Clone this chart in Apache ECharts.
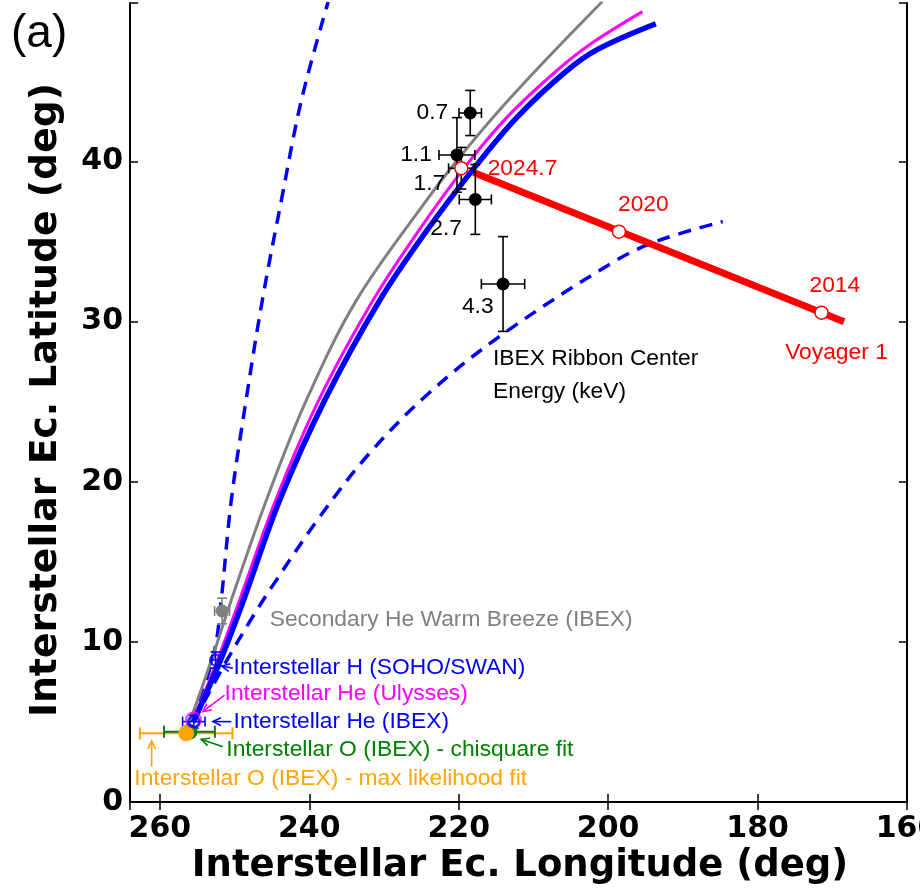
<!DOCTYPE html>
<html><head><meta charset="utf-8">
<script src="https://cdn.jsdelivr.net/npm/echarts@6/dist/echarts.min.js"></script>
<style>html,body{margin:0;padding:0;background:#fff}#chart{width:920px;height:893px}</style>
</head><body><div id="chart"></div>
<script>
// Axis tick labels
const xTickLabels = [260, 240, 220, 200, 180, 160];
const yTickLabels = [0, 10, 20, 30, 40];

// Flow-direction curves: [ecliptic longitude, ecliptic latitude]
const grayCurve = [[256.23, 4.68], [253.09, 8.87], [250.44, 12.62], [245.74, 18.86], [240.38, 25.11], [233.66, 31.36],
  [224.27, 37.60], [219.80, 40.31], [215.33, 42.80], [209.19, 45.93], [200.78, 49.99]];
const magentaCurve = [[255.44, 5.25], [252.28, 8.87], [249.33, 12.62], [244.50, 18.86], [238.72, 25.11], [231.44, 31.36],
  [225.57, 35.54], [219.13, 39.68], [213.49, 42.79], [206.82, 45.70], [202.16, 47.40], [195.41, 49.36]];
const blueCurve = [[255.50, 5.00], [251.88, 8.87], [248.79, 12.62], [243.96, 18.86], [237.92, 25.11], [230.54, 31.36],
  [224.50, 35.54], [217.79, 39.68], [212.15, 42.79], [205.71, 45.60], [201.41, 47.00], [193.62, 48.60]];
const blueDashLeft = [[255.50, 5.00], [252.68, 9.49], [251.79, 12.62], [250.44, 18.86], [248.46, 25.11], [246.28, 31.36],
  [243.73, 37.60], [241.05, 43.85], [237.48, 49.97]];
const blueDashRight = [[255.50, 5.00], [251.61, 8.37], [247.58, 11.57], [244.40, 13.87], [238.59, 17.82], [232.15, 21.67],
  [224.27, 25.42], [214.43, 29.11], [199.22, 33.75], [193.40, 35.04], [184.67, 36.25]];

// IBEX ribbon centers by energy (keV)
const ribbonEnergy = ['0.7', '1.1', '1.7', '2.7', '4.3'];
const ribbonLon = [218.46, 220.24, 219.66, 217.78, 214.07];
const ribbonLat = [43.03, 40.41, 39.58, 37.63, 32.35];
const ribbonLonErr = [1.5, 2.4, 1.7, 2.15, 2.9];
const ribbonLatErr = [1.41, 2.33, 1.3, 2.18, 2.96];
const ribbonLabelLon = [221.41, 223.60, 221.81, 219.57, 215.33];
const ribbonLabelLat = [43.03, 40.41, 38.64, 35.83, 30.94];

// Voyager 1 direction track and epochs
const voyagerTrack = [[218.01, 39.31], [168.43, 30.0]];
const voyagerYears = ['2024.7', '2020', '2014'];
const voyagerLon = [219.66, 198.55, 171.44];
const voyagerLat = [39.58, 35.62, 30.56];
const voyagerLabelLon = [216.13, 198.68, 173.05];
const voyagerLabelLat = [39.58, 37.29, 32.23];

// Interstellar flow measurements: [lon, lat, lonErr, latErr]
const warmBreeze = [251.68, 11.93, 1.0, 0.8];
const hydrogenSwan = [252.55, 8.87, 0.5, 0.5];
const heliumIbex = [255.46, 5.02, 1.5, 0.4];
const heliumUlysses = [255.5, 5.12];
const oxygenChisq = [256.04, 4.39, 3.4, 0];
const oxygenMaxLike = [256.48, 4.29, 6.2, 0];

// Annotation texts and their anchor points
const noteText = [
  'Secondary He Warm Breeze (IBEX)',
  'Interstellar H (SOHO/SWAN)',
  'Interstellar He (Ulysses)',
  'Interstellar He (IBEX)',
  'Interstellar O (IBEX) - chisquare fit',
  'Interstellar O (IBEX) - max likelihood fit',
  'IBEX Ribbon Center',
  'Energy (keV)',
  'Voyager 1'
];
const noteLon = [245.30, 250.13, 251.34, 250.13, 251.11, 263.42, 215.41, 215.41, 176.31];
const noteLat = [11.37, 8.41, 6.79, 5.02, 3.25, 1.48, 27.71, 25.63, 28.03];
const noteColor = ['#808080', '#0000ff', '#ff00ff', '#0000ff', '#008000', '#ffa500', '#000000', '#000000', '#ff0000'];

// Pointer arrows: [tailLon, tailLat, headLon, headLat]
const arrows = [
  [250.23, 8.35, 251.74, 8.49],
  [251.34, 6.68, 254.26, 5.64],
  [250.44, 5.02, 252.91, 5.02],
  [251.57, 3.45, 254.47, 3.92],
  [261.10, 2.20, 261.10, 3.81]
];
const arrowColor = ['#0000ff', '#ff00ff', '#0000ff', '#008000', '#ffa500'];

const TEXT_FONT = '22.8px "Liberation Sans", Arial, sans-serif';
const TITLE_FONT = 'bold 37px "DejaVu Sans", sans-serif';

function errorBars(color, lw, cap) {
  return function (params, api) {
    const x = api.value(0), y = api.value(1), ex = api.value(2), ey = api.value(3);
    const style = { stroke: color, lineWidth: lw };
    const ch = [];
    if (ex > 0) {
      const a = api.coord([x - ex, y]), b = api.coord([x + ex, y]);
      ch.push({ type: 'line', shape: { x1: a[0], y1: a[1], x2: b[0], y2: b[1] }, style });
      ch.push({ type: 'line', shape: { x1: a[0], y1: a[1] - cap, x2: a[0], y2: a[1] + cap }, style });
      ch.push({ type: 'line', shape: { x1: b[0], y1: b[1] - cap, x2: b[0], y2: b[1] + cap }, style });
    }
    if (ey > 0) {
      const a = api.coord([x, y - ey]), b = api.coord([x, y + ey]);
      ch.push({ type: 'line', shape: { x1: a[0], y1: a[1], x2: b[0], y2: b[1] }, style });
      ch.push({ type: 'line', shape: { x1: a[0] - cap, y1: a[1], x2: a[0] + cap, y2: a[1] }, style });
      ch.push({ type: 'line', shape: { x1: b[0] - cap, y1: b[1], x2: b[0] + cap, y2: b[1] }, style });
    }
    return { type: 'group', children: ch };
  };
}

function errSeries(rows, color, lw, cap, z) {
  return { type: 'custom', data: rows, renderItem: errorBars(color, lw, cap), z, silent: true, clip: false };
}

function textSeries(lons, lats, texts, colors, align, z) {
  return {
    type: 'custom', z, silent: true, clip: false,
    data: lons.map((v, i) => [v, lats[i]]),
    renderItem: function (params, api) {
      const i = params.dataIndex;
      const p = api.coord([api.value(0), api.value(1)]);
      return {
        type: 'text', x: p[0], y: p[1],
        style: { text: texts[i], fill: Array.isArray(colors) ? colors[i] : colors, font: TEXT_FONT, align, verticalAlign: 'middle' }
      };
    }
  };
}

function curve(data, color, width, dash, z) {
  return {
    type: 'line', data, showSymbol: false, symbol: 'none', smooth: 0.35, z, silent: true,
    lineStyle: { color, width, type: dash || 'solid', cap: 'butt' }
  };
}

const chart = echarts.init(document.getElementById('chart'), null, { renderer: 'canvas' });

const axisLineStyle = { lineStyle: { color: '#000', width: 2 } };
const tickStyle = { show: true, inside: true, length: 8, lineStyle: { color: '#000', width: 1.5 } };
const tickFont = { color: '#000', fontFamily: '"DejaVu Sans", sans-serif', fontWeight: 'bold', fontSize: 30 };

const option = {
  animation: false,
  backgroundColor: '#fff',
  grid: { left: 130, right: 13, top: 3, bottom: 91, containLabel: false, outerBoundsMode: 'none' },
  xAxis: [
    {
      type: 'value', min: 160, max: 264, interval: 20, inverse: true, position: 'bottom',
      axisLine: axisLineStyle, axisTick: tickStyle, splitLine: { show: false },
      axisLabel: Object.assign({ margin: 12, formatter: v => (xTickLabels.includes(v) ? String(v) : '') }, tickFont)
    },
    {
      type: 'value', min: 160, max: 264, interval: 20, inverse: true, position: 'top',
      axisLine: axisLineStyle, axisTick: tickStyle, splitLine: { show: false }, axisLabel: { show: false }
    }
  ],
  yAxis: [
    {
      type: 'value', min: 0, max: 49.9, interval: 10, position: 'left',
      axisLine: axisLineStyle, axisTick: tickStyle, splitLine: { show: false },
      axisLabel: Object.assign({ margin: 7, formatter: v => (yTickLabels.includes(v) ? String(v) : '') }, tickFont)
    },
    {
      type: 'value', min: 0, max: 49.9, interval: 10, position: 'right',
      axisLine: axisLineStyle, axisTick: tickStyle, splitLine: { show: false }, axisLabel: { show: false }
    }
  ],
  graphic: [
    { type: 'text', left: 11, top: 11, style: { text: '(a)', font: '46px "Liberation Sans", Arial, sans-serif', fill: '#000' } },
    { type: 'text', x: 46, y: 400, rotation: Math.PI / 2,
      style: { text: 'Interstellar Ec. Latitude (deg)', font: 'bold 37.8px "DejaVu Sans", sans-serif', fill: '#000', align: 'center', verticalAlign: 'middle' } },
    { type: 'text', x: 520, y: 866,
      style: { text: 'Interstellar Ec. Longitude (deg)', font: TITLE_FONT, fill: '#000', align: 'center', verticalAlign: 'middle' } }
  ],
  series: [
    curve(blueDashLeft, '#0000ff', 3.5, [13, 9], 2),
    curve(blueDashRight, '#0000ff', 3.5, [13, 9], 2),
    curve(grayCurve, '#808080', 3, null, 3),
    curve(magentaCurve, '#ff00ff', 3, null, 3),
    curve(blueCurve, '#0000ff', 5.5, null, 3),
    {
      type: 'line', data: voyagerTrack, showSymbol: false, symbol: 'none', z: 4, silent: true,
      lineStyle: { color: '#ff0000', width: 7 }
    },
    // measurement error bars
    errSeries(ribbonLon.map((v, i) => [v, ribbonLat[i], ribbonLonErr[i], ribbonLatErr[i]]), '#000', 1.6, 5, 5),
    errSeries([warmBreeze], '#808080', 1.6, 5, 5),
    errSeries([hydrogenSwan], '#0000ff', 1.6, 5, 5),
    errSeries([heliumIbex], '#0000ff', 1.6, 5, 5),
    errSeries([oxygenMaxLike], '#ffa500', 2, 6, 5),
    errSeries([oxygenChisq], '#008000', 2, 6, 5),
    // measurement markers
    {
      type: 'scatter', z: 6, silent: true, symbolSize: 13,
      data: [warmBreeze.slice(0, 2)], itemStyle: { color: '#808080', opacity: 1 }
    },
    {
      type: 'scatter', z: 6, silent: true, symbolSize: 11,
      data: [hydrogenSwan.slice(0, 2)], itemStyle: { color: 'rgba(0,0,0,0)', borderColor: '#0000ff', borderWidth: 2 }
    },
    {
      type: 'scatter', z: 6, silent: true, symbolSize: 16,
      data: [oxygenChisq.slice(0, 2)], itemStyle: { color: '#008000', opacity: 1 }
    },
    {
      type: 'scatter', z: 7, silent: true, symbolSize: 16,
      data: [oxygenMaxLike.slice(0, 2)], itemStyle: { color: '#ffa500', opacity: 1 }
    },
    {
      type: 'scatter', z: 8, silent: true, symbolSize: 15,
      data: [heliumUlysses], itemStyle: { color: 'rgba(0,0,0,0)', borderColor: '#ff00ff', borderWidth: 2 }
    },
    {
      type: 'scatter', z: 8, silent: true, symbolSize: 11,
      data: [heliumIbex.slice(0, 2)], itemStyle: { color: 'rgba(0,0,0,0)', borderColor: '#0000ff', borderWidth: 2.5 }
    },
    {
      type: 'scatter', z: 8, silent: true, symbolSize: 13,
      data: ribbonLon.map((v, i) => [v, ribbonLat[i]]), itemStyle: { color: '#000', opacity: 1 }
    },
    {
      type: 'scatter', z: 9, silent: true, symbolSize: 13,
      data: voyagerLon.map((v, i) => [v, voyagerLat[i]]),
      itemStyle: { color: '#fff', borderColor: '#ff0000', borderWidth: 1.5, opacity: 1 }
    },
    // pointer arrows
    {
      type: 'custom', z: 9, silent: true, clip: false, data: arrows,
      renderItem: function (params, api) {
        const i = params.dataIndex;
        const t = api.coord([api.value(0), api.value(1)]);
        const h = api.coord([api.value(2), api.value(3)]);
        const ang = Math.atan2(h[1] - t[1], h[0] - t[0]);
        const L = 9, w = 0.45;
        const p1 = [h[0] - L * Math.cos(ang - w), h[1] - L * Math.sin(ang - w)];
        const p2 = [h[0] - L * Math.cos(ang + w), h[1] - L * Math.sin(ang + w)];
        const style = { stroke: arrowColor[i], lineWidth: 1.6, fill: null };
        return {
          type: 'group', children: [
            { type: 'line', shape: { x1: t[0], y1: t[1], x2: h[0], y2: h[1] }, style },
            { type: 'polyline', shape: { points: [p1, h, p2] }, style }
          ]
        };
      }
    },
    textSeries(ribbonLabelLon, ribbonLabelLat, ribbonEnergy, '#000', 'right', 10),
    textSeries(voyagerLabelLon, voyagerLabelLat, voyagerYears, '#ff0000', 'left', 10),
    textSeries(noteLon, noteLat, noteText, noteColor, 'left', 10)
  ]
};
option.series.forEach(s => { s.xAxisIndex = 0; s.yAxisIndex = 0; });
chart.setOption(option);
</script>
</body></html>
